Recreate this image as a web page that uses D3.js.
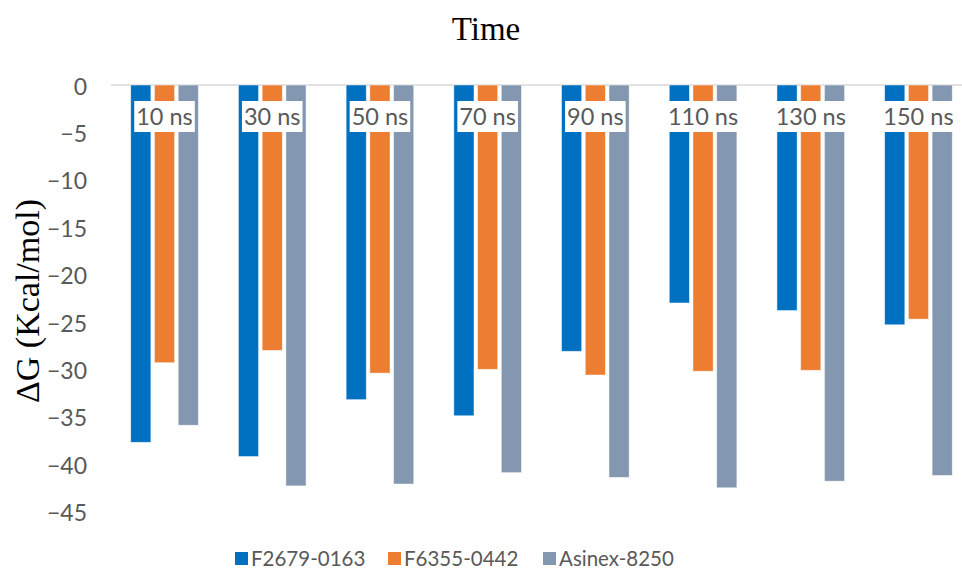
<!DOCTYPE html>
<html>
<head>
<meta charset="utf-8">
<script src="https://cdn.jsdelivr.net/npm/d3@7/dist/d3.min.js"></script>
<style>
  html, body { margin: 0; padding: 0; background: #fff; }
  svg { display: block; }
</style>
</head>
<body>
<svg id="chart" width="962" height="575"></svg>
<script>
// Binding free energy per simulation time point
const categories = ["10 ns", "30 ns", "50 ns", "70 ns", "90 ns", "110 ns", "130 ns", "150 ns"];
const seriesNames = ["F2679-0163", "F6355-0442", "Asinex-8250"];
const f2679 = [-37.7, -39.2, -33.2, -34.9, -28.1, -23.0, -23.8, -25.3];
const f6355 = [-29.3, -28.0, -30.4, -30.0, -30.6, -30.2, -30.1, -24.7];
const asinex = [-35.9, -42.3, -42.1, -40.9, -41.4, -42.5, -41.8, -41.2];
const yTicks = [0, -5, -10, -15, -20, -25, -30, -35, -40, -45];
const colors = ["#0070C0", "#ED7D31", "#8497B0"];

const seriesValues = [f2679, f6355, asinex];
const sans = "Lato, 'Open Sans', sans-serif";
const serif = "'Liberation Serif', 'Times New Roman', serif";

const svg = d3.select("#chart");

const y = d3.scaleLinear().domain([0, -45]).range([85, 511.5]);
const x = d3.scaleBand().domain(categories).range([111, 972])
  .paddingInner(0.372).paddingOuter(0.183);
const xs = d3.scaleBand().domain(seriesNames).range([0, x.bandwidth()]).paddingInner(0.15);

// Title
svg.append("text")
  .attr("x", 486).attr("y", 40)
  .attr("text-anchor", "middle")
  .style("font-family", serif)
  .style("font-size", "33px")
  .attr("fill", "#000")
  .text("Time");

// Y axis title
svg.append("text")
  .attr("transform", "translate(39,301) rotate(-90)")
  .attr("text-anchor", "middle")
  .style("font-family", serif)
  .style("font-size", "34px")
  .attr("fill", "#000")
  .text("\u0394G (Kcal/mol)");

// Y axis tick labels (no axis line)
const yAxis = d3.axisLeft(y).tickValues(yTicks).tickSize(0).tickPadding(0);
const gy = svg.append("g").attr("transform", "translate(87,0)").call(yAxis);
gy.select(".domain").remove();
gy.selectAll("text")
  .attr("dy", "0.35em")
  .attr("y", 1)
  .style("font-family", sans)
  .style("font-size", "23px")
  .attr("fill", "#595959");

// Zero baseline
svg.append("line")
  .attr("x1", 111).attr("x2", 972)
  .attr("y1", y(0)).attr("y2", y(0))
  .attr("stroke", "#d9d9d9").attr("stroke-width", 1.5);

// Bars
const groups = svg.append("g").selectAll("g")
  .data(categories)
  .join("g")
  .attr("transform", d => `translate(${x(d)},0)`);

groups.selectAll("rect")
  .data((d, i) => seriesNames.map((s, j) => ({ s, j, v: seriesValues[j][i] })))
  .join("rect")
  .attr("x", d => xs(d.s))
  .attr("width", xs.bandwidth())
  .attr("y", y(0))
  .attr("height", d => y(d.v) - y(0))
  .attr("fill", d => colors[d.j])
  .attr("stroke", "#ffffff")
  .attr("stroke-opacity", 0.6)
  .attr("stroke-width", 0.8);

// Category labels with white background boxes
const labels = svg.append("g");
categories.forEach(c => {
  const g = labels.append("g");
  const cx = x(c) + x.bandwidth() / 2;
  const t = g.append("text")
    .attr("x", cx).attr("y", 117)
    .attr("dy", "0.35em")
    .attr("text-anchor", "middle")
    .style("font-family", sans)
    .style("font-size", "23.5px")
    .attr("fill", "#595959")
    .text(c);
  const bb = t.node().getBBox();
  g.insert("rect", "text")
    .attr("x", bb.x - 2).attr("y", 101)
    .attr("width", bb.width + 4).attr("height", 31)
    .attr("fill", "#fff");
});

// Legend
const legendX = [235, 388, 543];
const legend = svg.append("g");
seriesNames.forEach((s, i) => {
  legend.append("rect")
    .attr("x", legendX[i]).attr("y", 552)
    .attr("width", 13).attr("height", 13)
    .attr("fill", colors[i]);
  legend.append("text")
    .attr("x", legendX[i] + 16).attr("y", 559)
    .attr("dy", "0.35em")
    .style("font-family", sans)
    .style("font-size", "20.5px")
    .attr("fill", "#595959")
    .text(s);
});
</script>
</body>
</html>
